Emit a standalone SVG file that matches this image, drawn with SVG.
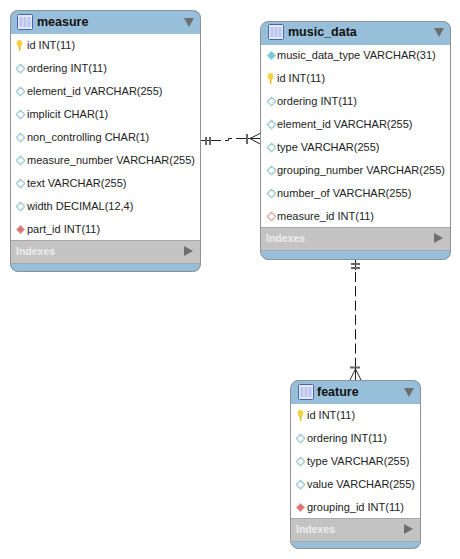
<svg xmlns="http://www.w3.org/2000/svg" width="460" height="559" viewBox="0 0 460 559">
<style>
text{font-family:"Liberation Sans",Arial,sans-serif}
.card{fill:#fff}
.blue{fill:#98bfda}
.gray{fill:#c3c3c3}
.edge{fill:none;stroke:#8e9295;stroke-width:1}
.sep{stroke:#a8a8a8;stroke-width:1}
.t{font-size:12.5px;font-weight:700;fill:#111}
.r{font-size:11px;fill:#222}
.i{font-size:10.5px;font-weight:700;fill:#eee}
.tri{fill:#6e6e6e}
.c{fill:none;stroke:#222;stroke-width:1}
.b{fill:none;stroke:#666;stroke-width:2}
.d{fill:none;stroke:#111;stroke-width:1;stroke-dasharray:10 4.300}
</style>
<defs>
<g id="tbl"><rect x="0.500" y="0.500" width="15" height="15" rx="1" fill="#e4e9f8" stroke="#4a62b5"/><rect x="2.500" y="3" width="11" height="10" fill="#b9c5ec"/><path d="M6 3v10M10 3v10" stroke="#e4e9f8" fill="none"/></g>
<g id="key"><ellipse cx="3.500" cy="3.200" rx="2.800" ry="3.200" fill="#f6d23e"/><path d="M2.500 6h2.200L4.300 11H3z" fill="#e6bb35"/></g>
<path id="nn" d="M4.500 0.300L8.700 4.500L4.500 8.700L0.300 4.500z" fill="#fff" stroke="#9fcdd6" stroke-width="1.300" stroke-linejoin="round"/>
<path id="nf" d="M4.500 0.300L8.700 4.500L4.500 8.700L0.300 4.500z" fill="#6fd0d3" stroke="#9fcdd6" stroke-linejoin="round"/>
<path id="fk" d="M4.500 0.300L8.700 4.500L4.500 8.700L0.300 4.500z" fill="#dc7474" stroke="#e5a8a8" stroke-linejoin="round"/>
<path id="fko" d="M4.500 0.300L8.700 4.500L4.500 8.700L0.300 4.500z" fill="#fff" stroke="#dcaeae" stroke-width="1.300" stroke-linejoin="round"/>
</defs>
<g id="connectors">
<path class="c" d="M201 140.500H221M225 140.500H228.500V138.500H232M236 138.500H261M250 138.500L261 133M250 138.500L261 144.500"/>
<path class="b" d="M206 137V145M210 137V145M247 134V144"/>
<path class="c" d="M355.500 260V270"/>
<path class="d" d="M355.500 272V368"/>
<path class="b" d="M351 264H360M351 268H360M350 367.500H360"/>
<path class="c" d="M350 380L355.500 369L361 380M355.500 368V380"/>
</g>
<g id="measure">
<rect class="card" x="10" y="10" width="191" height="262" rx="8"/>
<path class="blue" d="M10 34V18a8 8 0 0 1 8-8H193a8 8 0 0 1 8 8V34z"/>
<rect class="gray" x="10" y="241" width="191" height="22"/>
<path class="blue" d="M10 263H201V264a8 8 0 0 1-8 8H18a8 8 0 0 1-8-8z"/>
<rect class="edge" x="10.500" y="10.500" width="190" height="261" rx="8"/>
<path class="sep" d="M11 240.500H200M11 263.500H200"/>
<use href="#tbl" x="17" y="14"/>
<text class="t" x="37" y="26">measure</text>
<path class="tri" d="M184 18H194L189 27z"/>
<use href="#key" x="16" y="40"/><text class="r" x="27" y="49">id INT(11)</text>
<use href="#nn" x="16" y="64"/><text class="r" x="27" y="72">ordering INT(11)</text>
<use href="#nn" x="16" y="87"/><text class="r" x="27" y="95">element_id VARCHAR(255)</text>
<use href="#nn" x="16" y="110"/><text class="r" x="27" y="118">implicit CHAR(1)</text>
<use href="#nn" x="16" y="133"/><text class="r" x="27" y="141">non_controlling CHAR(1)</text>
<use href="#nn" x="16" y="156"/><text class="r" x="27" y="164">measure_number VARCHAR(255)</text>
<use href="#nn" x="16" y="179"/><text class="r" x="27" y="187">text VARCHAR(255)</text>
<use href="#nn" x="16" y="202"/><text class="r" x="27" y="210">width DECIMAL(12,4)</text>
<use href="#fk" x="16" y="225"/><text class="r" x="27" y="233">part_id INT(11)</text>
<text class="i" x="16" y="255">Indexes</text>
<path class="tri" d="M184 246V256L193 251z"/>
</g>
<g id="music_data">
<rect class="card" x="261" y="21" width="190" height="239" rx="8"/>
<path class="blue" d="M261 45V29a8 8 0 0 1 8-8H443a8 8 0 0 1 8 8V45z"/>
<rect class="gray" x="261" y="228" width="190" height="22"/>
<path class="blue" d="M261 250H451V252a8 8 0 0 1-8 8H269a8 8 0 0 1-8-8z"/>
<rect class="edge" x="260.500" y="21.500" width="190" height="238" rx="8"/>
<path class="sep" d="M261 227.500H450M261 250.500H450"/>
<use href="#tbl" x="268" y="24"/>
<text class="t" x="288" y="36">music_data</text>
<path class="tri" d="M434 28H444L439 37z"/>
<use href="#nf" x="267" y="51"/><text class="r" x="277" y="59">music_data_type VARCHAR(31)</text>
<use href="#key" x="267" y="73"/><text class="r" x="277" y="82">id INT(11)</text>
<use href="#nn" x="267" y="97"/><text class="r" x="277" y="105">ordering INT(11)</text>
<use href="#nn" x="267" y="120"/><text class="r" x="277" y="128">element_id VARCHAR(255)</text>
<use href="#nn" x="267" y="143"/><text class="r" x="277" y="151">type VARCHAR(255)</text>
<use href="#nn" x="267" y="166"/><text class="r" x="277" y="174">grouping_number VARCHAR(255)</text>
<use href="#nn" x="267" y="189"/><text class="r" x="277" y="197">number_of VARCHAR(255)</text>
<use href="#fko" x="267" y="212"/><text class="r" x="277" y="220">measure_id INT(11)</text>
<text class="i" x="266" y="242">Indexes</text>
<path class="tri" d="M434 233V243L443 238z"/>
</g>
<g id="feature">
<rect class="card" x="291" y="380" width="130" height="169" rx="8"/>
<path class="blue" d="M291 404V388a8 8 0 0 1 8-8H413a8 8 0 0 1 8 8V404z"/>
<rect class="gray" x="291" y="519" width="130" height="22"/>
<path class="blue" d="M291 541H421V541a8 8 0 0 1-8 8H299a8 8 0 0 1-8-8z"/>
<rect class="edge" x="290.500" y="380.500" width="130" height="168" rx="8"/>
<path class="sep" d="M291 518.500H420M291 541.500H420"/>
<use href="#tbl" x="298" y="384"/>
<text class="t" x="317" y="396">feature</text>
<path class="tri" d="M404 388H414L409 397z"/>
<use href="#key" x="297" y="410"/><text class="r" x="307" y="419">id INT(11)</text>
<use href="#nn" x="296" y="434"/><text class="r" x="307" y="442">ordering INT(11)</text>
<use href="#nn" x="296" y="457"/><text class="r" x="307" y="465">type VARCHAR(255)</text>
<use href="#nn" x="296" y="480"/><text class="r" x="307" y="488">value VARCHAR(255)</text>
<use href="#fk" x="296" y="503"/><text class="r" x="307" y="511">grouping_id INT(11)</text>
<text class="i" x="296" y="533">Indexes</text>
<path class="tri" d="M404 524V534L413 529z"/>
</g>
</svg>
